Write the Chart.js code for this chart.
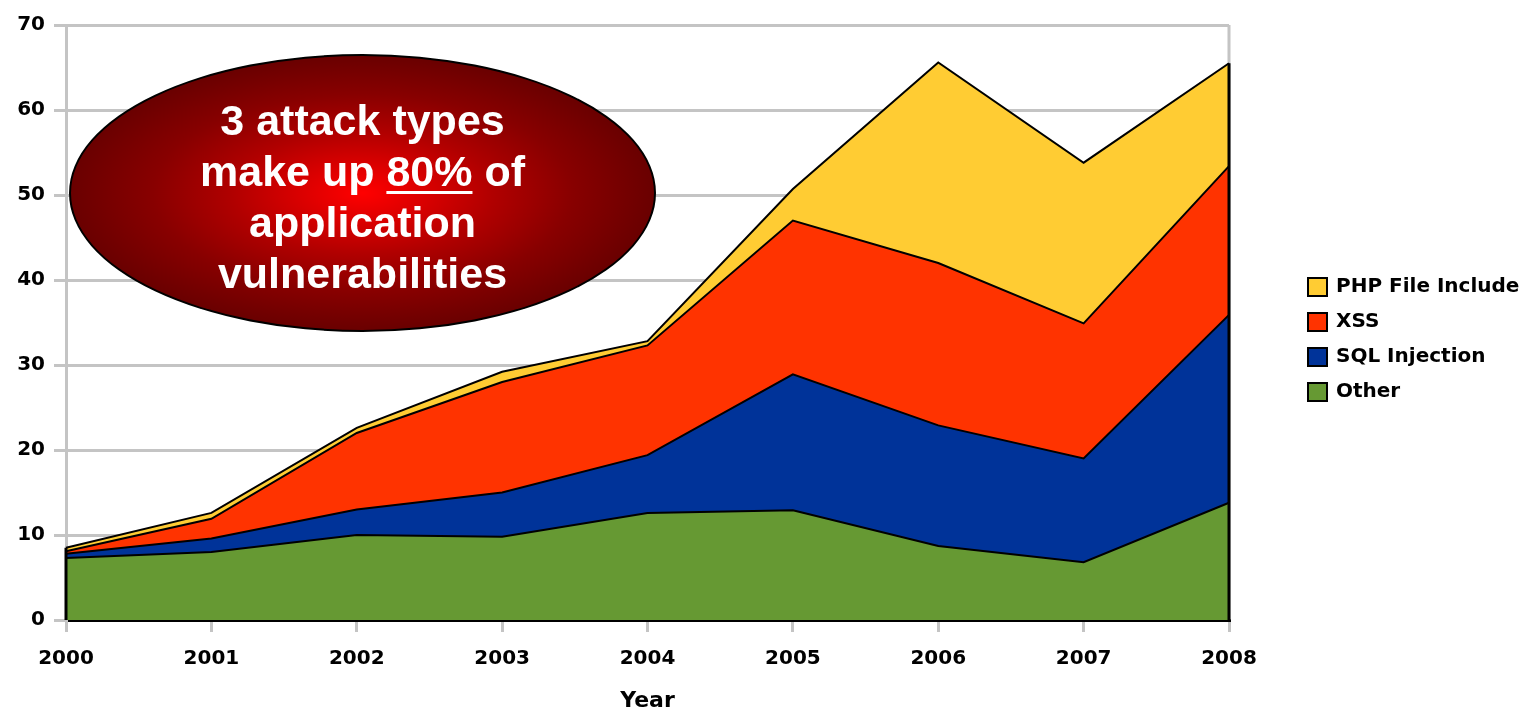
<!DOCTYPE html>
<html>
<head>
<meta charset="utf-8">
<script src="https://cdn.jsdelivr.net/npm/chart.js@4/dist/chart.umd.min.js"></script>
<style>
  body { margin: 0; background: #fff; }
  #wrap { position: relative; width: 1528px; height: 714px; }
  #callout {
    position: absolute; left: 69px; top: 54px; width: 587px; height: 278px;
    border: 2px solid #000; border-radius: 50%;
    background: radial-gradient(farthest-side at 50% 50%, #ff0000 0%, #e00000 18%, #b00000 45%, #880000 72%, #6a0000 100%);
    color: #fff; font: bold 43px "Liberation Sans", Arial, sans-serif;
    line-height: 51px; text-align: center; box-sizing: border-box; padding-top: 39px;
  }
  #callout u { text-decoration-thickness: 3px; text-underline-offset: 5px; }
</style>
</head>
<body>
<div id="wrap">
  <canvas id="grafico" width="1528" height="714"></canvas>
  <div id="callout">3 attack types<br>make up <u>80%</u> of<br>application<br>vulnerabilities</div>
</div>
<script>
// Años y vulnerabilidades por tipo (valores por capa, se apilan)
const anios = ['2000', '2001', '2002', '2003', '2004', '2005', '2006', '2007', '2008'];
const otros = [7.3, 8.0, 10.0, 9.8, 12.6, 12.9, 8.7, 6.8, 13.8];
const sqlInjection = [0.5, 1.6, 3.0, 5.2, 6.8, 16.0, 14.2, 12.2, 22.1];
const xss = [0.3, 2.3, 9.0, 13.0, 12.9, 18.1, 19.1, 15.9, 17.5];
const phpInclude = [0.4, 0.7, 0.6, 1.2, 0.5, 3.7, 23.6, 18.9, 12.1];
const ticksY = [0, 10, 20, 30, 40, 50, 60, 70];

const gris = '#c4c4c4';

function capa(label, data, color, fill) {
    return {
        label: label,
        data: data,
        backgroundColor: color,
        borderColor: '#000',
        borderWidth: 2,
        pointRadius: 0,
        tension: 0,
        fill: fill
    };
}

// Bordes: línea gris a la derecha del área y bordes negros verticales de las capas
const bordes = {
    id: 'bordes',
    beforeDatasetsDraw(chart) {
        const { ctx, chartArea } = chart;
        ctx.save();
        ctx.strokeStyle = gris;
        ctx.lineWidth = 3;
        ctx.beginPath();
        ctx.moveTo(chartArea.right, chartArea.top);
        ctx.lineTo(chartArea.right, chartArea.bottom);
        ctx.stroke();
        ctx.restore();
    },
    afterDatasetsDraw(chart) {
        const { ctx, scales } = chart;
        const ultimo = anios.length - 1;
        const total = i => otros[i] + sqlInjection[i] + xss[i] + phpInclude[i];
        ctx.save();
        ctx.strokeStyle = '#000';
        ctx.lineWidth = 3;
        [0, ultimo].forEach(i => {
            const x = scales.x.getPixelForValue(i);
            ctx.beginPath();
            ctx.moveTo(x, scales.y.getPixelForValue(0));
            ctx.lineTo(x, scales.y.getPixelForValue(total(i)));
            ctx.stroke();
        });
        ctx.restore();
    }
};

// Leyenda a la derecha, en orden inverso al apilado
const leyenda = {
    id: 'leyenda',
    afterDraw(chart) {
        const { ctx } = chart;
        const items = chart.data.datasets.slice().reverse();
        ctx.save();
        ctx.font = 'bold 20px "DejaVu Sans", sans-serif';
        ctx.textBaseline = 'middle';
        items.forEach((ds, i) => {
            const y = 287 + i * 35;
            ctx.fillStyle = ds.backgroundColor;
            ctx.fillRect(1308, y - 9, 19, 18);
            ctx.strokeStyle = '#000';
            ctx.lineWidth = 2;
            ctx.strokeRect(1308, y - 9, 19, 18);
            ctx.fillStyle = '#000';
            ctx.fillText(ds.label, 1336, y);
        });
        ctx.restore();
    }
};

new Chart(document.getElementById('grafico'), {
    type: 'line',
    data: {
        labels: anios,
        datasets: [
            capa('Other', otros, '#669933', 'origin'),
            capa('SQL Injection', sqlInjection, '#003399', '-1'),
            capa('XSS', xss, '#ff3300', '-1'),
            capa('PHP File Include', phpInclude, '#ffcc33', '-1')
        ]
    },
    options: {
        responsive: false,
        animation: false,
        layout: { padding: { top: 25, right: 299, left: 0, bottom: 0 } },
        plugins: {
            legend: { display: false },
            tooltip: { enabled: false }
        },
        scales: {
            x: {
                offset: false,
                afterFit: s => { s.height = 94; },
                grid: { drawOnChartArea: false, tickLength: 12, color: gris, lineWidth: 3 },
                border: { color: '#000', width: 3 },
                ticks: { font: { family: '"DejaVu Sans", sans-serif', size: 20, weight: 'bold' }, color: '#000', padding: 15, maxRotation: 0 },
                title: { display: true, text: 'Year', color: '#000', font: { family: '"DejaVu Sans", sans-serif', size: 22, weight: 'bold' }, padding: { top: 0, bottom: 0 } }
            },
            y: {
                stacked: true,
                min: ticksY[0],
                max: ticksY[ticksY.length - 1],
                afterFit: s => { s.width = 66; },
                afterBuildTicks: s => { s.ticks = ticksY.map(v => ({ value: v })); },
                grid: { tickLength: 12, color: gris, lineWidth: 3 },
                border: { color: gris, width: 3 },
                ticks: { font: { family: '"DejaVu Sans", sans-serif', size: 20, weight: 'bold' }, color: '#000', padding: 9 }
            }
        }
    },
    plugins: [bordes, leyenda]
});
</script>
</body>
</html>
